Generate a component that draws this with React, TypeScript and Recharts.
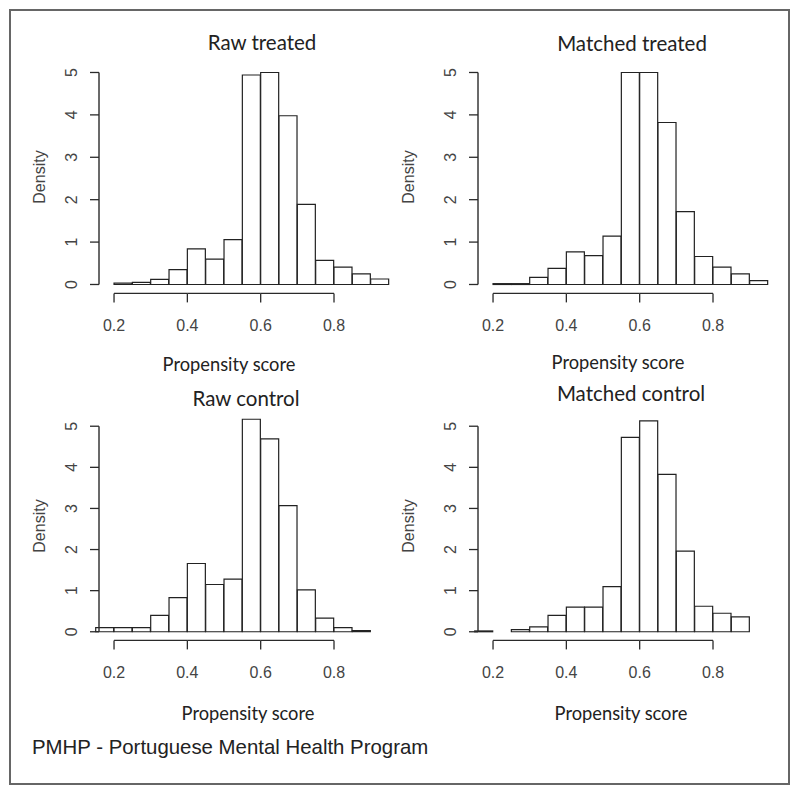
import React from 'react';
import { BarChart, Bar, XAxis, YAxis, ReferenceLine } from 'recharts';

// left edge of every histogram bin (width 0.05)
const treatedBins = [0.2, 0.25, 0.3, 0.35, 0.4, 0.45, 0.5, 0.55, 0.6, 0.65, 0.7, 0.75, 0.8, 0.85, 0.9];
const controlBins = [0.15, 0.2, 0.25, 0.3, 0.35, 0.4, 0.45, 0.5, 0.55, 0.6, 0.65, 0.7, 0.75, 0.8, 0.85];
const BIN_WIDTH = 0.05;

// densities
const rawTreated = [0.03, 0.05, 0.12, 0.35, 0.84, 0.6, 1.06, 4.94, 5.0, 3.98, 1.89, 0.57, 0.41, 0.25, 0.13];
const matchedTreated = [0.02, 0.02, 0.17, 0.38, 0.77, 0.68, 1.14, 5.0, 5.0, 3.82, 1.72, 0.66, 0.41, 0.25, 0.09];
const rawControl = [0.1, 0.1, 0.1, 0.4, 0.83, 1.66, 1.15, 1.28, 5.17, 4.69, 3.07, 1.02, 0.33, 0.1, 0.03];
const matchedControl = [0.02, 0, 0.05, 0.12, 0.4, 0.6, 0.6, 1.1, 4.73, 5.13, 3.83, 1.96, 0.62, 0.45, 0.36];

const xTicks = [0.2, 0.4, 0.6, 0.8];
const yTicks = [0, 1, 2, 3, 4, 5];

const X_DOMAIN: [number, number] = [0.159, 0.98];
const Y_DOMAIN: [number, number] = [-0.21, 5.2];

const PLOT_W = 301;
const X_TICK_SIZE = 9;
const X_TICK_MARGIN = 17;
const pxPerUnit = PLOT_W / (X_DOMAIN[1] - X_DOMAIN[0]);

const toRows = (bins: number[], dens: number[]) =>
    bins.map((b, i) => ({ mid: b + BIN_WIDTH / 2, density: dens[i] }));

const tickFont = '"Liberation Sans", Arial, sans-serif';
const labelFont = 'Lato, "Open Sans", sans-serif';
const axisColor = '#2a2a2a';

// x tick label, plus the piece of R-style axis line up to the next tick
const XTick = (props: any) => {
    const { x, y, payload, index } = props;
    const axisY = y - X_TICK_MARGIN - X_TICK_SIZE;
    const next = xTicks[index + 1];
    return (
        <g>
            {next !== undefined && (
                <line
                    x1={x}
                    x2={x + (next - xTicks[index]) * pxPerUnit}
                    y1={axisY}
                    y2={axisY}
                    stroke={axisColor}
                    strokeWidth={1.4}
                />
            )}
            <text x={x} y={y} dy="0.71em" textAnchor="middle" fill="#444" fontSize={16} fontFamily={tickFont}>
                {payload.value}
            </text>
        </g>
    );
};

const YTick = (props: any) => {
    const { x, y, payload } = props;
    return (
        <text
            x={x}
            y={y}
            transform={`rotate(-90, ${x}, ${y})`}
            textAnchor="middle"
            fill="#444"
            fontSize={16}
            fontFamily={tickFont}
        >
            {payload.value}
        </text>
    );
};

interface HistProps {
    data: { mid: number; density: number }[];
    left: number; // y axis position on page
    top: number; // plot top on page
    plotHeight: number;
}

const Histogram: React.FC<HistProps> = ({ data, left, top, plotHeight }) => {
    const height = plotHeight + 55;
    return (
        <div style={{ position: 'absolute', left: left - 70, top: top - 10 }}>
            <BarChart
                width={70 + PLOT_W + 10}
                height={height}
                data={data}
                margin={{ top: 10, right: 10, bottom: 0, left: 0 }}
                barCategoryGap={0}
                barGap={0}
            >
                <XAxis
                    dataKey="mid"
                    type="number"
                    domain={X_DOMAIN}
                    ticks={xTicks}
                    interval={0}
                    axisLine={false}
                    tickLine={{ stroke: axisColor, strokeWidth: 1.3 }}
                    tickSize={X_TICK_SIZE}
                    tickMargin={X_TICK_MARGIN}
                    tick={(p: any) => <XTick {...p} />}
                    height={45}
                />
                <YAxis
                    type="number"
                    domain={Y_DOMAIN}
                    ticks={yTicks}
                    interval={0}
                    axisLine={false}
                    tickLine={{ stroke: axisColor, strokeWidth: 1.3 }}
                    tickSize={9}
                    tickMargin={13}
                    tick={(p: any) => <YTick {...p} />}
                    width={70}
                />
                {/* R style y axis line, only across the tick range */}
                <ReferenceLine
                    segment={[
                        { x: X_DOMAIN[0], y: yTicks[0] },
                        { x: X_DOMAIN[0], y: yTicks[yTicks.length - 1] },
                    ]}
                    stroke={axisColor}
                    strokeWidth={1.4}
                    ifOverflow="visible"
                />
                <Bar dataKey="density" fill="#fff" stroke="#222" strokeWidth={1.2} isAnimationActive={false} />
            </BarChart>
        </div>
    );
};

const Txt: React.FC<{ x: number; y: number; size: number; font?: string; rotate?: boolean; children: React.ReactNode }> = ({
    x,
    y,
    size,
    font = labelFont,
    rotate,
    children,
}) => (
    <div
        style={{
            position: 'absolute',
            left: x,
            top: y,
            transform: `translate(-50%, -50%)${rotate ? ' rotate(-90deg)' : ''}`,
            fontFamily: font,
            fontSize: size,
            lineHeight: 1,
            whiteSpace: 'nowrap',
            color: rotate ? '#444' : '#222',
        }}
    >
        {children}
    </div>
);

export default function App() {
    const topH = 229.4;
    const bottomH = 222.4;
    return (
        <div style={{ position: 'absolute', left: 0, top: 0, width: 800, height: 796, background: '#fff' }}>
            <div
                style={{
                    position: 'absolute',
                    left: 9,
                    top: 9,
                    width: 781,
                    height: 776,
                    border: '2px solid #666',
                    boxSizing: 'border-box',
                }}
            />

            <Histogram data={toRows(treatedBins, rawTreated)} left={99} top={63.5} plotHeight={topH} />
            <Histogram data={toRows(treatedBins, matchedTreated)} left={478} top={63.5} plotHeight={topH} />
            <Histogram data={toRows(controlBins, rawControl)} left={99} top={418.3} plotHeight={bottomH} />
            <Histogram data={toRows(controlBins, matchedControl)} left={478} top={418.3} plotHeight={bottomH} />

            <Txt x={262} y={42} size={20.5}>Raw treated</Txt>
            <Txt x={632} y={43} size={20.5}>Matched treated</Txt>
            <Txt x={246} y={398} size={20.5}>Raw control</Txt>
            <Txt x={631} y={393} size={20.5}>Matched control</Txt>

            <Txt x={229} y={364} size={18.3}>Propensity score</Txt>
            <Txt x={618} y={362} size={18.3}>Propensity score</Txt>
            <Txt x={248} y={713} size={18.3}>Propensity score</Txt>
            <Txt x={621} y={713} size={18.3}>Propensity score</Txt>

            <Txt x={40} y={177} size={16} font={tickFont} rotate>Density</Txt>
            <Txt x={409} y={177} size={16} font={tickFont} rotate>Density</Txt>
            <Txt x={40} y={526} size={16} font={tickFont} rotate>Density</Txt>
            <Txt x={409} y={526} size={16} font={tickFont} rotate>Density</Txt>

            <div
                style={{
                    position: 'absolute',
                    left: 32,
                    top: 737,
                    fontFamily: tickFont,
                    fontSize: 20.4,
                    lineHeight: 1,
                    color: '#222',
                    whiteSpace: 'nowrap',
                }}
            >
                PMHP - Portuguese Mental Health Program
            </div>
        </div>
    );
}
